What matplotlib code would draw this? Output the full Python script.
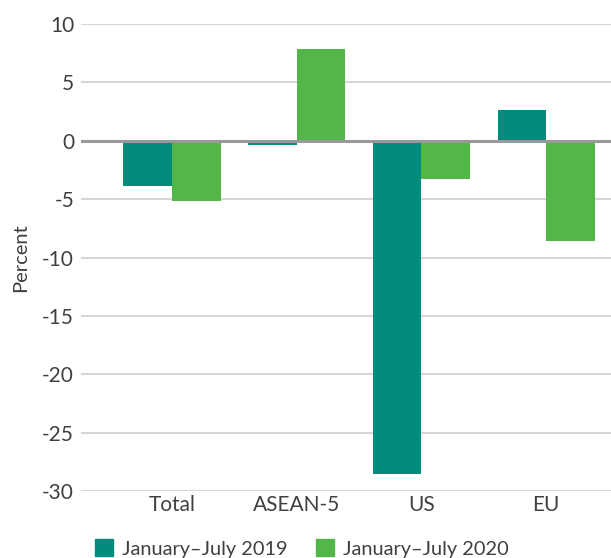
import numpy as np
import matplotlib.pyplot as plt
from matplotlib.patches import Patch

plt.rcParams['font.family'] = ['Lato', 'DejaVu Sans']
plt.rcParams['axes.unicode_minus'] = False

categories = ['Total', 'ASEAN-5', 'US', 'EU']
jan_jul_2019 = [-3.9, -0.4, -28.5, 2.65]
jan_jul_2020 = [-5.2, 7.9, -3.3, -8.6]
series_labels = ['January\u2013July 2019', 'January\u2013July 2020']

teal = '#008b7d'
green = '#52b748'
text_col = '#404040'

fig = plt.figure(figsize=(6.11, 5.58), dpi=100)
ax = fig.add_axes([0.1326, 0.12, 0.8674, 0.837])

x = np.arange(len(categories))
w = 0.39
ax.bar(x - w / 2, jan_jul_2019, w, color=teal, zorder=3)
ax.bar(x + w / 2, jan_jul_2020, w, color=green, zorder=3)

ax.set_ylim(-30, 10)
ax.set_xlim(-0.73, 3.52)
ax.set_yticks(np.arange(-30, 11, 5))
ax.yaxis.grid(True, color='#d6d6d6', linewidth=1.5, zorder=0)
ax.axhline(0, color='#999999', linewidth=2.2, zorder=4)

for s in ax.spines.values():
    s.set_visible(False)
ax.tick_params(axis='y', length=0, pad=5, labelsize=15, labelcolor=text_col)
ax.tick_params(axis='x', length=0, pad=3, labelsize=15, labelcolor=text_col)
ax.set_xticks(x)
ax.set_xticklabels(categories)
ax.set_ylabel('Percent', fontsize=14.5, color=text_col)
ax.yaxis.set_label_coords(-0.098, 0.5)

handles = [Patch(color=teal, label=series_labels[0]),
           Patch(color=green, label=series_labels[1])]
fig.legend(handles=handles, loc='center left', bbox_to_anchor=(0.155, 0.017),
           ncol=2, frameon=False, fontsize=14.4, labelcolor=text_col,
           handlelength=0.9, handleheight=0.9, handletextpad=0.45,
           columnspacing=1.45, borderpad=0, borderaxespad=0)

fig.savefig('out.png', dpi=100)
